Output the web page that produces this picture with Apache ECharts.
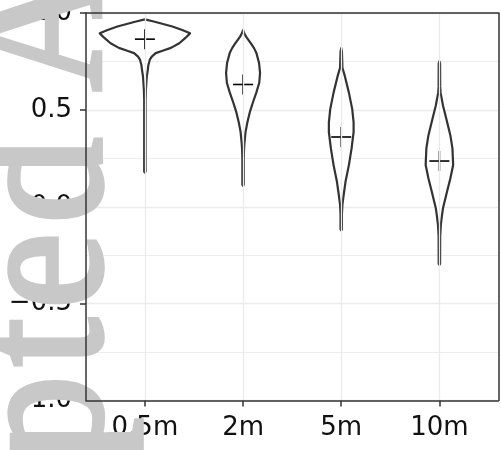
<!DOCTYPE html>
<html>
<head>
<meta charset="utf-8">
<script src="https://cdn.jsdelivr.net/npm/echarts@6/dist/echarts.min.js"></script>
<style>
  html, body { margin: 0; padding: 0; background: #ffffff; }
  #chart { width: 501px; height: 450px; }
</style>
</head>
<body>
<div id="chart"></div>
<script>
// Groups (distance) shown along the x axis
const categories = ['0.5m', '2m', '5m', '10m'];

// Violin outlines: value (y) and half-width (in x-axis units), top to bottom
const violin05Y = [0.967, 0.955, 0.93, 0.912, 0.895, 0.87, 0.844, 0.82, 0.805, 0.793, 0.775, 0.759, 0.73, 0.708, 0.675, 0.64, 0.6, 0.55, 0.181, 0.176];
const violin05W = [0, 0.10, 0.28, 0.38, 0.46, 0.41, 0.35, 0.265, 0.18, 0.11, 0.07, 0.05, 0.035, 0.03, 0.02, 0.015, 0.01, 0.007, 0.007, 0];

const violin2Y = [0.912, 0.895, 0.878, 0.844, 0.82, 0.793, 0.742, 0.691, 0.64, 0.589, 0.538, 0.487, 0.436, 0.385, 0.334, 0.30, 0.25, 0.113, 0.108];
const violin2W = [0, 0.012, 0.03, 0.078, 0.11, 0.136, 0.163, 0.173, 0.165, 0.135, 0.10, 0.068, 0.044, 0.025, 0.015, 0.01, 0.007, 0.007, 0];

const violin5Y = [0.819, 0.80, 0.717, 0.674, 0.589, 0.504, 0.436, 0.385, 0.30, 0.215, 0.13, 0.062, 0.011, -0.04, -0.117, -0.122];
const violin5W = [0, 0.007, 0.012, 0.037, 0.078, 0.112, 0.126, 0.126, 0.105, 0.078, 0.044, 0.025, 0.012, 0.007, 0.007, 0];

const violin10Y = [0.751, 0.74, 0.62, 0.589, 0.521, 0.453, 0.368, 0.30, 0.215, 0.147, 0.079, -0.006, -0.05, -0.091, -0.15, -0.295, -0.30];
const violin10W = [0, 0.007, 0.008, 0.012, 0.037, 0.071, 0.112, 0.133, 0.14, 0.112, 0.078, 0.037, 0.025, 0.015, 0.008, 0.007, 0];

// Group means (drawn as "+")
const means = [0.865, 0.631, 0.36, 0.236];

// Axis ticks
const yTicks = [-1, -0.5, 0, 0.5, 1];
const xTicks = [1, 2, 3, 4];

const profilesY = [violin05Y, violin2Y, violin5Y, violin10Y];
const profilesW = [violin05W, violin2W, violin5W, violin10W];

const fmtY = v => (v < 0 ? '\u2212' : '') + Math.abs(v).toFixed(1);
const labelFont = { fontFamily: 'DejaVu Sans', fontSize: 26, color: '#111111' };
const borderStyle = { color: '#333333', width: 1.5 };

const gridBox = { left: 86, top: 10.5, right: 2.7, bottom: 49.5 };

// Watermark: rotated serif text set letter by letter (advance widths in em)
const stampText = 'Accepted Article';
const stampAdvance = { A: 0.722, c: 0.444, e: 0.444, p: 0.5, t: 0.278, d: 0.5, ' ': 0.16, r: 0.333, i: 0.278, l: 0.278 };
function stampLetters() {
  const size = 170, track = 10, startY = 850, baseX = 50;
  const out = [];
  let run = 0;
  stampText.split('').forEach((ch, k) => {
    const adv = stampAdvance[ch] * size;
    const cy = startY - run - adv / 2 - k * track;
    run += adv;
    if (ch === ' ') return;
    out.push({
      type: 'text', x: baseX, y: cy, rotation: Math.PI / 2, scaleY: 1.12,
      zlevel: 1, z: 0, silent: true,
      style: {
        text: ch, fontFamily: 'Liberation Serif', fontSize: size,
        fill: '#C8C8C8', stroke: '#C8C8C8', lineWidth: 5,
        align: 'center', verticalAlign: 'middle'
      }
    });
  });
  return out;
}

// Axis carrying only a border line, on the layer above the watermark
function borderX(pos) {
  return {
    type: 'value', min: 0.4, max: 4.6, position: pos, zlevel: 1, z: 20,
    axisLine: { show: true, onZero: false, lineStyle: borderStyle },
    axisTick: { show: false }, axisLabel: { show: false }, splitLine: { show: false }
  };
}
function borderY(pos) {
  return {
    type: 'value', min: -1, max: 1, position: pos, zlevel: 1, z: 20,
    axisLine: { show: true, onZero: false, lineStyle: borderStyle },
    axisTick: { show: false }, axisLabel: { show: false }, splitLine: { show: false }
  };
}

const chart = echarts.init(document.getElementById('chart'), null, { renderer: 'canvas' });

chart.setOption({
  animation: false,
  backgroundColor: '#ffffff',
  grid: gridBox,
  xAxis: [
    {
      type: 'value', min: 0.4, max: 4.6, position: 'bottom', z: 0,
      axisLine: { show: false, onZero: false },
      axisTick: { show: true, length: 6, customValues: xTicks, lineStyle: borderStyle },
      axisLabel: {
        show: true, margin: 15, customValues: xTicks,
        formatter: v => categories[Math.round(v) - 1],
        ...labelFont
      },
      splitLine: { show: false }
    },
    borderX('bottom'),
    borderX('top')
  ],
  yAxis: [
    {
      type: 'value', min: -1, max: 1, interval: 0.5, position: 'left', z: 0,
      axisLine: { show: false, onZero: false },
      axisTick: { show: true, length: 6, lineStyle: borderStyle },
      axisLabel: { show: true, margin: 14, formatter: fmtY, ...labelFont },
      splitLine: { show: true, lineStyle: { color: '#EBEBEB', width: 1.3 } },
      minorTick: { show: false, splitNumber: 2 },
      minorSplitLine: { show: true, lineStyle: { color: '#EDEDED', width: 1 } }
    },
    borderY('left'),
    borderY('right')
  ],
  graphic: stampLetters(),
  series: [
    {
      // vertical grid lines at each group
      type: 'line', xAxisIndex: 0, yAxisIndex: 0, data: [], z: 1, silent: true,
      markLine: {
        silent: true, symbol: 'none', label: { show: false },
        lineStyle: { color: '#EBEBEB', width: 1.3, type: 'solid' },
        data: xTicks.map(v => ({ xAxis: v }))
      }
    },
    {
      // violin outlines
      type: 'custom', xAxisIndex: 0, yAxisIndex: 0, z: 3, silent: true,
      encode: { x: 0, y: 1 },
      data: categories.map((c, i) => [i + 1, means[i]]),
      renderItem: function (params, api) {
        const i = params.dataIndex;
        const xc = api.value(0);
        const ys = profilesY[i], ws = profilesW[i];
        const right = ys.map((y, k) => api.coord([xc + ws[k], y]));
        const left = ys.map((y, k) => api.coord([xc - ws[k], y])).reverse();
        return {
          type: 'polygon',
          shape: { points: right.concat(left) },
          style: { fill: '#ffffff', stroke: '#333333', lineWidth: 2.2, lineJoin: 'round' }
        };
      }
    },
    {
      // mean markers
      type: 'custom', xAxisIndex: 0, yAxisIndex: 0, z: 4, silent: true,
      encode: { x: 0, y: 1 },
      data: categories.map((c, i) => [i + 1, means[i]]),
      renderItem: function (params, api) {
        const p = api.coord([api.value(0), api.value(1)]);
        const h = 10;
        const st = { stroke: '#000000', lineWidth: 1.6 };
        return {
          type: 'group',
          children: [
            { type: 'line', shape: { x1: p[0] - h, y1: p[1], x2: p[0] + h, y2: p[1] }, style: st },
            { type: 'line', shape: { x1: p[0], y1: p[1] - h, x2: p[0], y2: p[1] + h }, style: st }
          ]
        };
      }
    }
  ]
});
</script>
</body>
</html>
